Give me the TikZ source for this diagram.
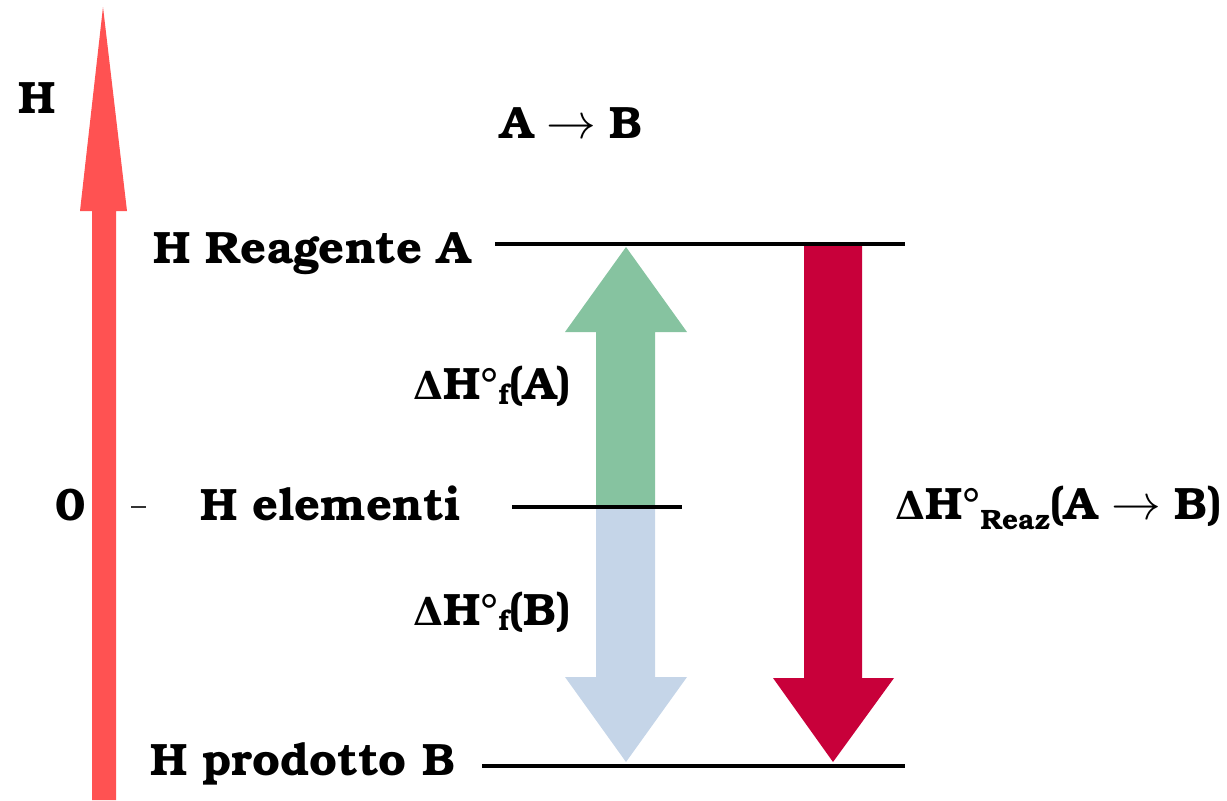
\documentclass[tikz,border=0pt]{standalone}
\usepackage{fontspec}
\usepackage{graphicx}
\setmainfont{TeX Gyre Bonum}
\newfontfamily\greekfont{DejaVu Serif}
\definecolor{axisred}{RGB}{255,82,82}
\definecolor{formgreen}{RGB}{134,195,160}
\definecolor{formblue}{RGB}{197,213,232}
\definecolor{reazred}{RGB}{200,0,58}
\newcommand{\sublow}[2]{\raisebox{#1}{\fontsize{21}{22}\selectfont #2}}
\newcommand{\Dlt}{{\greekfont\bfseries\fontsize{29}{34}\selectfont Δ}}
\newcommand{\thinto}{\hspace{0.3em}\scalebox{1.5}{$\rightarrow$}\hspace{0.3em}}
\begin{document}
\begin{tikzpicture}[x=0.75pt,y=-0.75pt,
    lbl/.style={font=\bfseries\fontsize{34}{40}\selectfont, inner sep=0pt, anchor=base west},
    level/.style={line width=3pt, black}]
\useasboundingbox (0,0) rectangle (1227,800);

% enthalpy axis
\fill[axisred] (92,800) -- (92,211) -- (80,211) -- (103,7) -- (127,211)
  -- (116,211) -- (116,800) -- cycle;

% enthalpy levels
\coordinate (topL) at (495,244);  \coordinate (topR) at (905,244);
\coordinate (midL) at (512,507);  \coordinate (midR) at (682,507);
\coordinate (botL) at (482,766);  \coordinate (botR) at (905,766);

% formation of A (up) and of B (down)
\fill[formgreen] (596,507) -- (596,332) -- (565,332) -- (626,247) -- (687,332)
  -- (655,332) -- (655,507) -- cycle;
\fill[formblue] (596,507) -- (596,677) -- (565,677) -- (626,762) -- (687,677)
  -- (655,677) -- (655,507) -- cycle;

% reaction enthalpy
\fill[reazred] (804,245) -- (804,678) -- (773,678) -- (833,762) -- (894,678)
  -- (862,678) -- (862,245) -- cycle;

\draw[level] (topL) -- (topR);
\draw[level] (midL) -- (midR);
\draw[level] (botL) -- (botR);

% tick at zero
\coordinate (tickL) at (131,507); \coordinate (tickR) at (146,507);
\draw[line width=1.1pt, black!80] (tickL) -- (tickR);

% labels
\node[lbl] (hax) at (18,113) {H};
\node[lbl] (reac) at (500,138) {A\thinto B};
\node[lbl] (hA) at (153,263) {H Reagente A};
\node[lbl] (zero) at (55,520) {0};
\node[lbl] (hel) at (200,520) {H elementi};
\node[lbl] (hB) at (150,775) {H prodotto B};
\node[lbl] (dfA) at (413,399) {\Dlt H°\sublow{-4pt}{f}(A)};
\node[lbl] (dfB) at (413,625) {\Dlt H°\sublow{-4pt}{f}(B)};
\node[lbl] (dR) at (895,519) {\Dlt H°\sublow{-8pt}{Reaz}(A\thinto B)};
\end{tikzpicture}
\end{document}
